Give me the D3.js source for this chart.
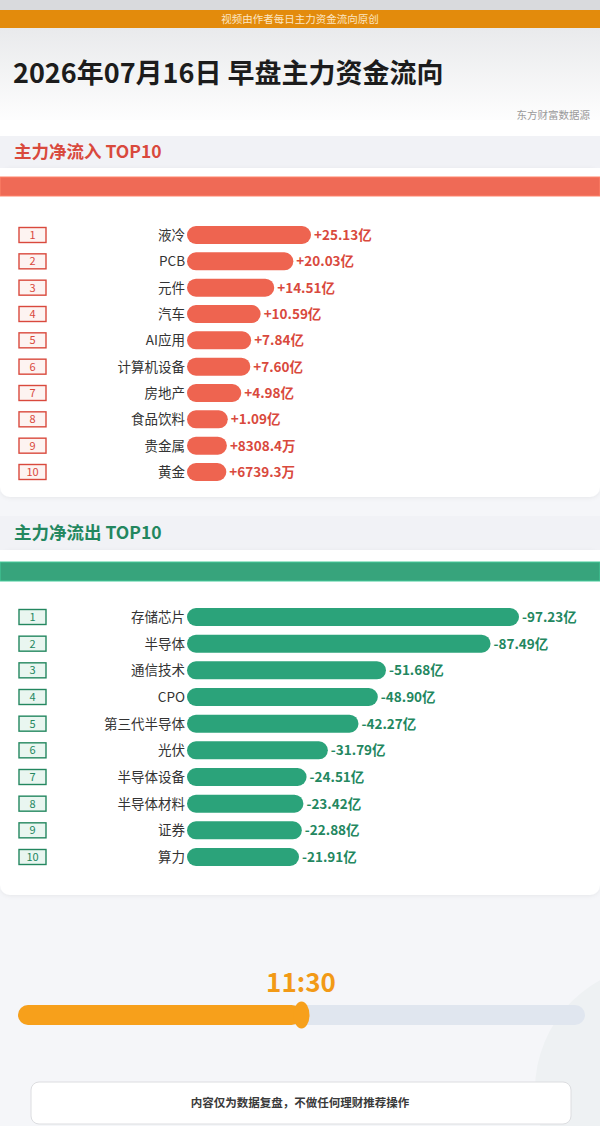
<!DOCTYPE html>
<html><head><meta charset="utf-8">
<script src="https://cdn.jsdelivr.net/npm/d3@7"></script>
<style>html,body{margin:0;padding:0;background:#f5f6f9;}svg{display:block;font-family:"Noto Sans CJK SC","Noto Sans",sans-serif;}</style>
</head><body><svg id="c" width="600" height="1126"></svg>
<script>
const titleText = "2026年07月16日 早盘主力资金流向";
const bannerText = "视频由作者每日主力资金流向原创";
const sourceText = "东方财富数据源";
const inflowTitle = "主力净流入 TOP10";
const outflowTitle = "主力净流出 TOP10";
const timeText = "11:30";
const footerText = "内容仅为数据复盘，不做任何理财推荐操作";

const inflowNames = ["液冷","PCB","元件","汽车","AI应用","计算机设备","房地产","食品饮料","贵金属","黄金"];
const inflowValues = [25.13,20.03,14.51,10.59,7.84,7.60,4.98,1.09,0.83084,0.67393]; // 亿
const outflowNames = ["存储芯片","半导体","通信技术","CPO","第三代半导体","光伏","半导体设备","半导体材料","证券","算力"];
const outflowValues = [97.23,87.49,51.68,48.90,42.27,31.79,24.51,23.42,22.88,21.91]; // 亿 (net outflow)
const progress = 0.5; // fraction of trading session elapsed (morning close)

function fmt(v, sign){
  return v >= 1 ? sign + v.toFixed(2) + "亿" : sign + (v*10000).toFixed(1) + "万";
}

const svg = d3.select("#c");
const W = 600, H = 1126;
const defs = svg.append("defs");
const g1 = defs.append("linearGradient").attr("id","topg").attr("x1",0).attr("y1",0).attr("x2",0).attr("y2",1);
g1.append("stop").attr("offset","0%").attr("stop-color","#e9eaec");
g1.append("stop").attr("offset","100%").attr("stop-color","#ffffff");
const sh = defs.append("filter").attr("id","sh").attr("x","-5%").attr("y","-5%").attr("width","110%").attr("height","115%");
sh.append("feDropShadow").attr("dx",0).attr("dy",1).attr("stdDeviation",2).attr("flood-color","#000").attr("flood-opacity",0.06);

// page background
svg.append("rect").attr("width",W).attr("height",H).attr("fill","#f5f6f9");
// decorative circle bottom right
svg.append("circle").attr("cx",660).attr("cy",1090).attr("r",125).attr("fill","#eef1f3");
// top
svg.append("rect").attr("x",0).attr("y",0).attr("width",W).attr("height",10).attr("fill","#d9dadd");
svg.append("rect").attr("x",0).attr("y",28).attr("width",W).attr("height",100).attr("fill","url(#topg)");
svg.append("rect").attr("x",0).attr("y",120).attr("width",W).attr("height",20).attr("fill","#ffffff");
svg.append("rect").attr("x",0).attr("y",10).attr("width",W).attr("height",18).attr("fill","#e38b0c");
svg.append("text").attr("x",300).attr("y",22.5).attr("text-anchor","middle").attr("font-size",10.5)
  .attr("fill","#fbe6c4").text(bannerText);
svg.append("text").attr("x",13).attr("y",83).attr("font-size",27).attr("font-weight","bold")
  .attr("fill","#1c1c1c").text(titleText);
svg.append("text").attr("x",590).attr("y",119).attr("text-anchor","end").attr("font-size",10.5)
  .attr("fill","#9a9a9a").text(sourceText);

function section(cfg){
  const {top, head, bandY, title, names, values, sign, color, dark, band, boxFill, xRange, yRange, panelBottom} = cfg;
  // header band
  svg.append("rect").attr("x",0).attr("y",top).attr("width",W).attr("height",head).attr("fill","#f1f2f6");
  // panel
  svg.append("rect").attr("x",0).attr("y",top+head).attr("width",W).attr("height",panelBottom-top-head)
    .attr("rx",10).attr("fill","#ffffff").attr("filter","url(#sh)");
  svg.append("rect").attr("x",0).attr("y",top+head).attr("width",W).attr("height",20).attr("fill","#ffffff");
  svg.append("text").attr("x",14).attr("y",top+head/2+6).attr("font-size",17.5).attr("font-weight","bold")
    .attr("fill",dark).text(title);
  svg.append("rect").attr("x",0).attr("y",bandY).attr("width",W).attr("height",19).attr("fill",band)
    .attr("stroke",d3.color(band).brighter(0.6)).attr("stroke-width",1);

  const x = d3.scaleLinear().domain([0, d3.max(values)]).range(xRange);
  const y = d3.scalePoint().domain(d3.range(names.length)).range(yRange);
  const x0 = 187, bh = 18;
  const rows = svg.append("g").selectAll("g").data(names).join("g")
    .attr("transform",(d,i)=>`translate(0,${y(i)})`);
  rows.append("rect").attr("x",19).attr("y",-7.5).attr("width",27).attr("height",15)
    .attr("fill",boxFill).attr("stroke",dark).attr("stroke-width",1.4);
  rows.append("text").attr("x",32.5).attr("y",4).attr("text-anchor","middle").attr("font-size",11)
    .attr("fill",dark).text((d,i)=>i+1);
  rows.append("text").attr("x",x0-2).attr("y",5).attr("text-anchor","end").attr("font-size",13.5)
    .attr("fill","#333333").text(d=>d);
  rows.append("rect").attr("x",x0).attr("y",-bh/2).attr("height",bh).attr("rx",bh/2)
    .attr("width",(d,i)=>x(values[i])).attr("fill",color);
  rows.append("text").attr("x",(d,i)=>x0+x(values[i])+3).attr("y",5).attr("font-size",13.5)
    .attr("font-weight","bold").attr("fill",dark).text((d,i)=>fmt(values[i],sign));
}

section({top:136, head:32, bandY:177, title:inflowTitle, names:inflowNames, values:inflowValues, sign:"+",
  color:"#ee6450", dark:"#d9493d", band:"#ef6a56", boxFill:"#fdf3f1",
  xRange:[37,124], yRange:[235,472], panelBottom:497});
section({top:516, head:34, bandY:562, title:outflowTitle, names:outflowNames, values:outflowValues, sign:"-",
  color:"#2ba37a", dark:"#23875f", band:"#37a47c", boxFill:"#e9f6f0",
  xRange:[48,332], yRange:[617,857], panelBottom:895});

// progress
const px = d3.scaleLinear().domain([0,1]).range([18,585]);
svg.append("text").attr("x",301).attr("y",992).attr("text-anchor","middle").attr("font-size",26)
  .attr("font-weight","bold").attr("fill","#f29a17").text(timeText);
svg.append("rect").attr("x",px(0)).attr("y",1005).attr("width",px(1)-px(0)).attr("height",20).attr("rx",10).attr("fill","#e0e6ef");
svg.append("rect").attr("x",px(0)).attr("y",1005).attr("width",px(progress)-px(0)).attr("height",20).attr("rx",10).attr("fill","#f7a01b");
svg.append("ellipse").attr("cx",px(progress)).attr("cy",1015).attr("rx",8).attr("ry",13.5).attr("fill","#f7a01b");

// footer
svg.append("rect").attr("x",31).attr("y",1082).attr("width",540).attr("height",42).attr("rx",8)
  .attr("fill","#ffffff").attr("stroke","#dcdde0").attr("stroke-width",1);
svg.append("text").attr("x",300).attr("y",1107).attr("text-anchor","middle").attr("font-size",11.5)
  .attr("font-weight","bold").attr("fill","#3a3a3a").text(footerText);
</script></body></html>
